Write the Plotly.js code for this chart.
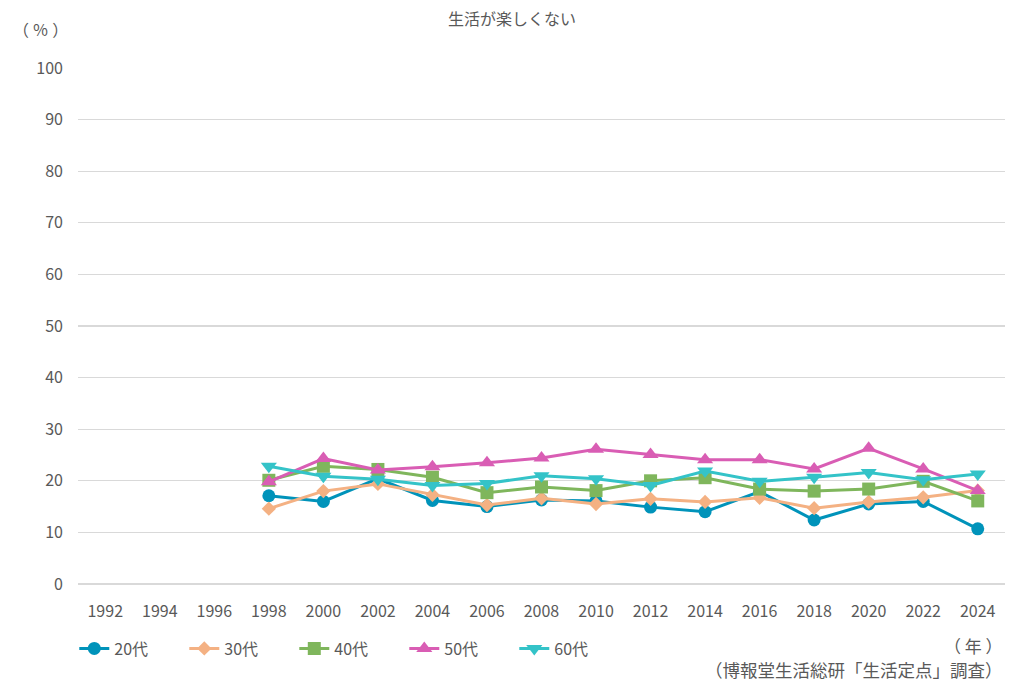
<!DOCTYPE html>
<html><head><meta charset="utf-8">
<script src="https://cdn.plot.ly/plotly-3.0.1.min.js"></script>
<style>html,body{margin:0;padding:0;background:#fff;}#chart{width:1024px;height:683px;}</style>
</head><body><div id="chart"></div>
<script>
const tickYears = [1992,1994,1996,1998,2000,2002,2004,2006,2008,2010,2012,2014,2016,2018,2020,2022,2024];
const years = [1998,2000,2002,2004,2006,2008,2010,2012,2014,2016,2018,2020,2022,2024];
const s20 = [17.1,16.0,20.4,16.2,15.0,16.3,16.1,14.9,14.0,17.9,12.4,15.5,16.0,10.7];
const s30 = [14.6,18.0,19.4,17.3,15.3,16.6,15.5,16.5,15.9,16.7,14.7,15.9,16.8,18.1];
const s40 = [20.1,22.8,22.2,20.7,17.7,18.8,18.1,20.0,20.6,18.4,18.0,18.4,19.9,16.1];
const s50 = [19.8,24.3,22.1,22.7,23.5,24.4,26.1,25.1,24.1,24.1,22.3,26.3,22.3,18.1];
const s60 = [22.8,20.9,20.3,19.1,19.5,21.0,20.4,19.1,21.9,19.9,20.7,21.6,20.2,21.3];
const names = ['20代','30代','40代','50代','60代'];
const colors = ['#0093BA','#F4B183','#7FB65C','#D95DB4','#34C3C8'];
const symbols = ['circle','diamond','square','triangle-up','triangle-down'];
const sizes = [13,11,13,14,14];
const series = [s20,s30,s40,s50,s60];
const font = '"Noto Sans CJK JP", "Noto Sans", sans-serif';
const txt = '#595959';

const traces = series.map((s,i)=>({
  x: years, y: s, name: names[i], type:'scatter', mode:'lines+markers',
  line:{color:colors[i], width:3},
  marker:{symbol:symbols[i], size:sizes[i], color:colors[i]}
}));

const layout = {
  width:1024, height:683,
  margin:{l:78, r:19, t:68, b:99},
  paper_bgcolor:'#fff', plot_bgcolor:'#fff',
  font:{family:font, color:txt, size:16},
  showlegend:true,
  legend:{orientation:'h', x:-0.004, xanchor:'left', y:-0.125, yanchor:'middle',
    font:{family:font, size:16, color:txt}, entrywidth:65, entrywidthmode:'pixels',
    itemwidth:30, tracegroupgap:0},
  xaxis:{range:[1991,2025], tickmode:'array', tickvals:tickYears, ticktext:tickYears.map(String),
    showgrid:false, zeroline:false, showline:false, ticks:'', tickfont:{size:16,color:txt}, ticklabelstandoff:16, automargin:false},
  yaxis:{range:[0,100], tickmode:'array', tickvals:[0,10,20,30,40,50,60,70,80,90,100],
    showgrid:true, gridcolor:'#D9D9D9', gridwidth:1.3, zeroline:true, zerolinecolor:'#D9D9D9', zerolinewidth:1.3,
    showline:false, ticks:'', tickfont:{size:16,color:txt}, ticklabelstandoff:14, automargin:false},
  title:{text:'生活が楽しくない', x:0.5, xref:'container', xanchor:'center', y:0.972, yref:'container', yanchor:'middle', font:{family:font,size:16,color:txt}},
  annotations:[
    {text:'（ ％ ）', xref:'paper', yref:'paper', x:-0.04, y:1.075, xanchor:'center', yanchor:'middle', showarrow:false, font:{family:font,size:16,color:txt}},
    {text:'（ 年 ）', xref:'paper', yref:'paper', x:1.0, y:-0.12, xanchor:'right', yanchor:'middle', showarrow:false, font:{family:font,size:17,color:txt}},
    {text:'（博報堂生活総研「生活定点」調査）', xref:'paper', yref:'paper', x:1.0, y:-0.166, xanchor:'right', yanchor:'middle', showarrow:false, font:{family:font,size:17.5,color:txt}}
  ]
};
Plotly.newPlot('chart', traces, layout, {displayModeBar:false, staticPlot:true});
</script></body></html>
